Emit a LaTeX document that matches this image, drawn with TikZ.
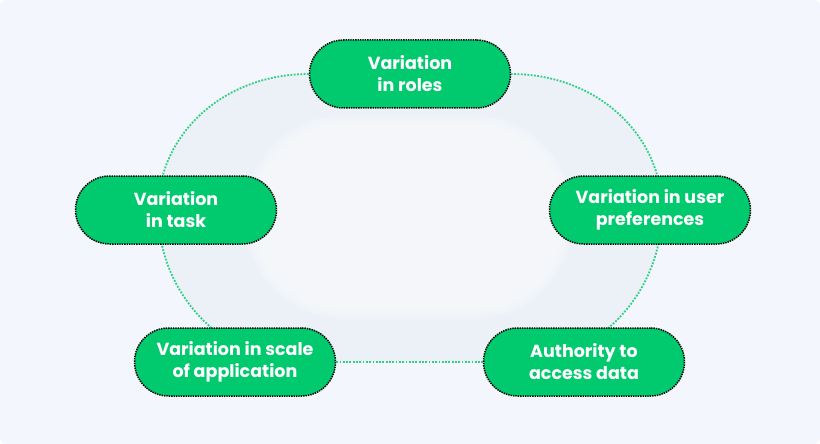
\documentclass[tikz,border=0pt]{standalone}
\usepackage{fontspec}
\setmainfont{Poppins}
\usetikzlibrary{calc}
\definecolor{canvas}{HTML}{F3F7FD}
\definecolor{ringfill}{HTML}{ECF0F7}
\definecolor{core}{HTML}{F9FAFD}
\definecolor{nodegreen}{HTML}{00C96E}
\definecolor{ringgreen}{HTML}{2ED183}
\pgfdeclarelayer{background}
\pgfdeclarelayer{backback}
\pgfsetlayers{backback,background,main}
\begin{document}
\begin{tikzpicture}[x=1pt,y=-1pt,
  box/.style={rectangle, rounded corners=34pt, fill=nodegreen, draw=black,
    line width=1.5pt, dash pattern=on 1.4pt off 1pt,
    minimum width=201pt, minimum height=68pt, align=center, text=white,
    font=\fontsize{17.5}{22}\selectfont\bfseries, inner sep=0pt},
  ring/.style={draw=ringgreen, line width=1.8pt, dash pattern=on 1.8pt off 1.5pt}]
\useasboundingbox (0,0) rectangle (820,444);

% nodes
\node[box] (roles) at (410,74) {Variation\\in roles};
\node[box] (task) at (176,210) {Variation\\in task};
\node[box] (prefs) at (650,210) {Variation in user\\preferences};
\node[box] (scale) at (235,362) {Variation in scale\\of application};
\node[box] (authority) at (584,362) {Authority to\\access data};

\coordinate (L) at (158,210);
\coordinate (R) at (662,210);
\coordinate (BL) at (303,362);
\coordinate (BR) at (517,362);

\begin{pgfonlayer}{backback}
  \fill[canvas, rounded corners=6pt] (0,0) rectangle (820,444);
  \fill[ringfill] (303,74) -- (517,74) .. controls (597,74) and (662,135) .. (R)
     .. controls (662,294) and (597,362) .. (BR) -- (BL)
     .. controls (223,362) and (158,294) .. (L)
     .. controls (158,135) and (223,74) .. (303,74) -- cycle;
  \foreach \d in {20,18,...,-16}{
    \fill[core, fill opacity=0.2, rounded corners=80pt+\d pt] (264-\d,134-\d) rectangle (554+\d,300+\d);
  }
\end{pgfonlayer}

\begin{pgfonlayer}{background}
  \draw[ring] (roles.west) .. controls (223,74) and (158,135) .. (L);
  \draw[ring] (L) .. controls (158,294) and (223,362) .. (BL);
  \draw[ring] (scale.east) -- (authority.west);
  \draw[ring] (BR) .. controls (597,362) and (662,294) .. (R);
  \draw[ring] (R) .. controls (662,135) and (597,74) .. (roles.east);
\end{pgfonlayer}
\end{tikzpicture}
\end{document}
